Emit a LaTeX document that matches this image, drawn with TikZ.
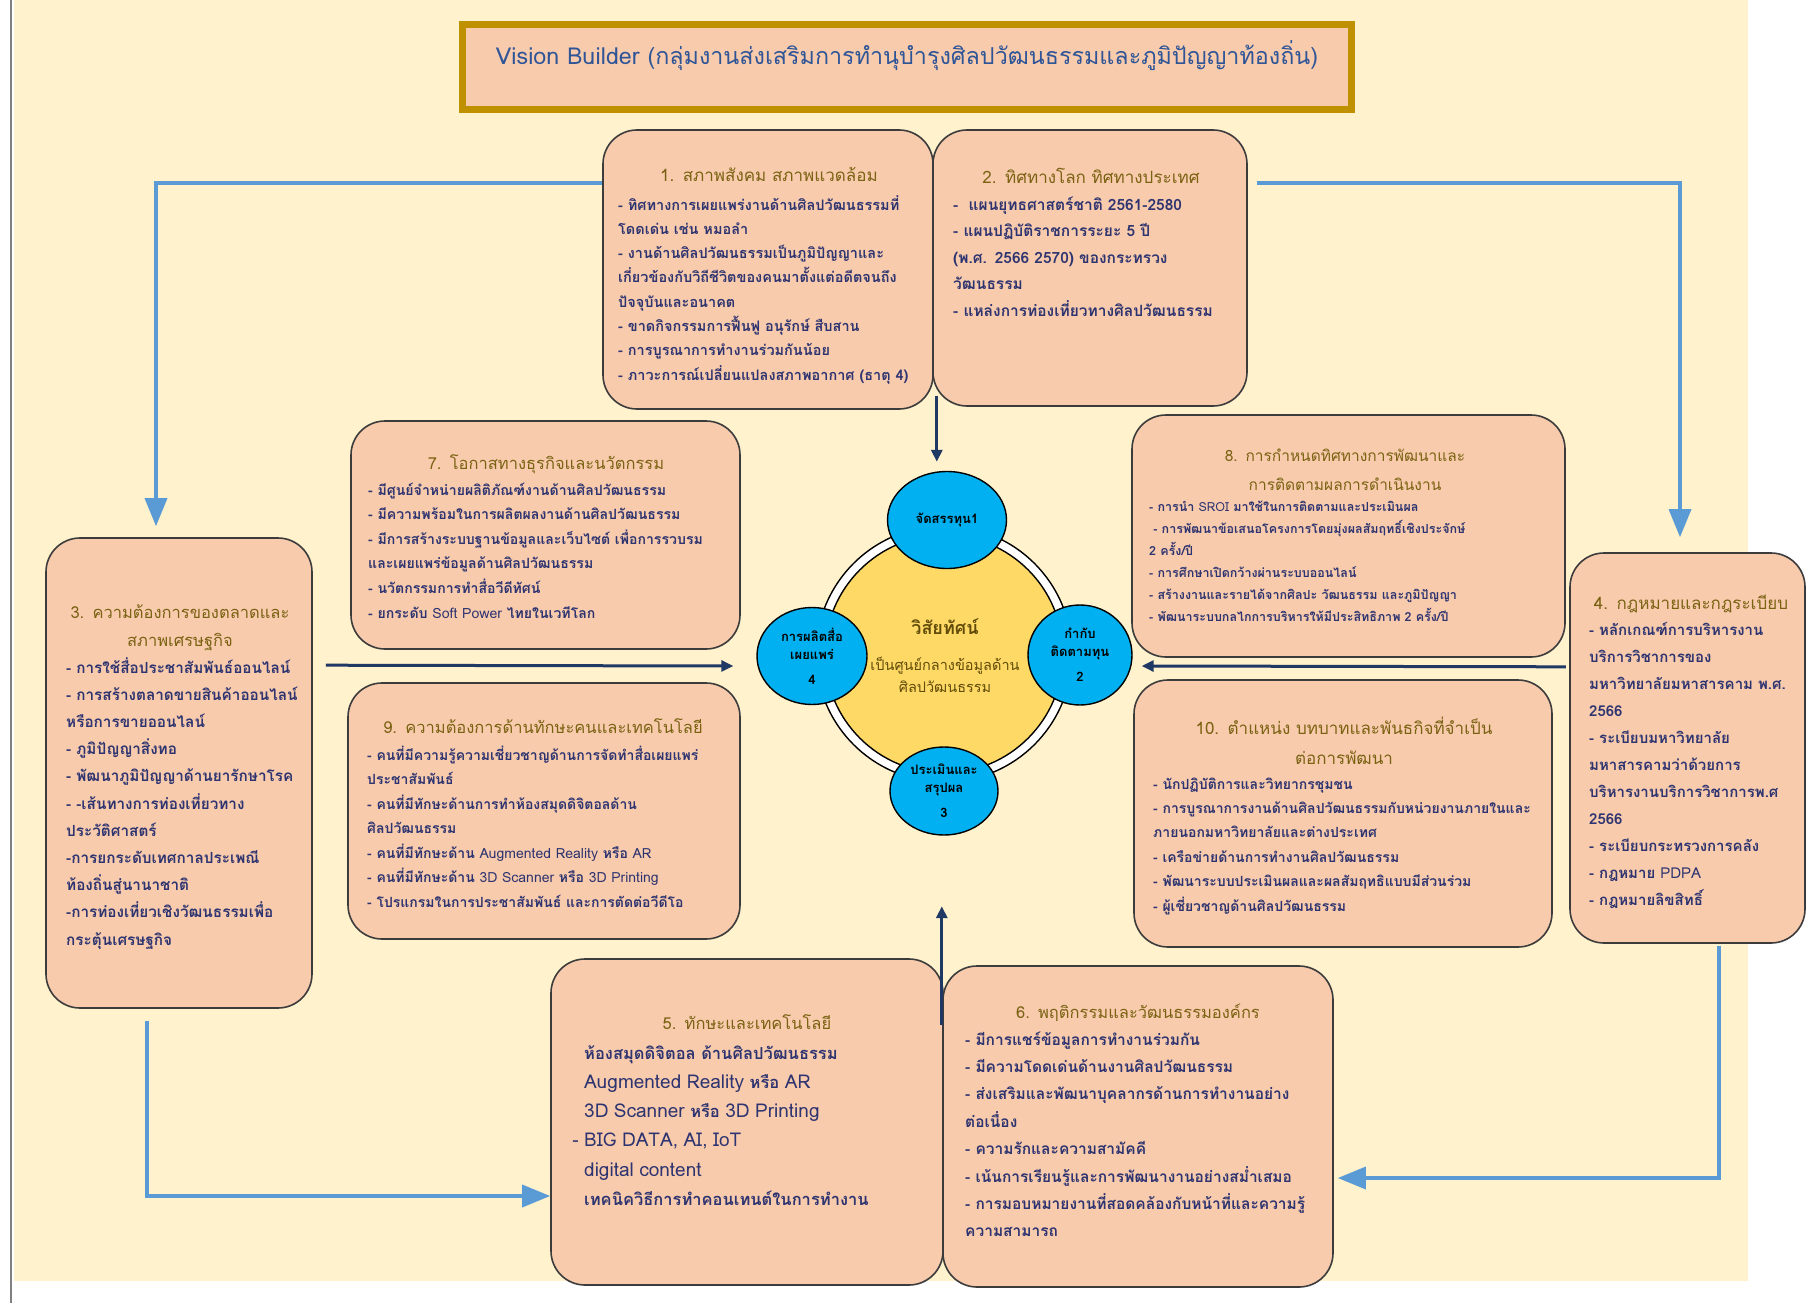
\documentclass[tikz,border=0pt]{standalone}
\usepackage{fontspec}
\setmainfont[Script=Thai]{Loma}
\usetikzlibrary{shapes.geometric,arrows.meta}

\definecolor{cream}{RGB}{255,242,204}
\definecolor{peach}{RGB}{248,203,173}
\definecolor{boxline}{RGB}{60,60,60}
\definecolor{headcol}{RGB}{122,98,18}
\definecolor{bodycol}{RGB}{46,52,112}
\definecolor{titleblue}{RGB}{47,85,151}
\definecolor{gold}{RGB}{191,144,0}
\definecolor{loopblue}{RGB}{91,155,213}
\definecolor{navy}{RGB}{31,56,100}
\definecolor{ringyellow}{RGB}{255,217,102}
\definecolor{skyblue}{RGB}{0,176,240}
\definecolor{vistext}{RGB}{96,76,8}

\newcommand{\engtxt}[1]{{\mdseries #1}}
\newcommand{\biglat}[1]{{\mdseries\fontsize{19}{29.3}\selectfont #1}}

\tikzset{
	panel/.style={draw=boxline, fill=peach, line width=1.6pt, rounded corners=34pt, inner sep=0pt},
	headtxt/.style 2 args={text=headcol, inner sep=0pt, anchor=base, align=center, text width=420pt, font=\fontsize{#1}{#2}\selectfont},
	bodytxt/.style 2 args={text=bodycol, inner sep=0pt, anchor=base west, align=left, text width=440pt, font=\fontsize{#1}{#2}\selectfont\bfseries},
	stage/.style={ellipse, draw=black, fill=skyblue, line width=1.4pt, inner sep=0pt, align=center, font=\fontsize{13}{18}\selectfont\bfseries},
	loopline/.style={draw=loopblue, line width=3.5pt, -{Triangle[length=28pt,width=22pt]}},
	navyline/.style={draw=navy, line width=3pt, -{Triangle[length=12pt,width=11pt]}}
}

\begin{document}
\begin{tikzpicture}[x=1pt,y=-1pt]
	\useasboundingbox (0,0) rectangle (1807,1303);
	\fill[cream] (14,0) rectangle (1748,1281);
	\draw[gray, line width=2pt] (11,0) -- (11,1303);

	% title
	\node[draw=gold, line width=7pt, fill=peach, minimum width=889pt, minimum height=85pt] (title) at (907,67) {};
	\node[text=titleblue, font=\fontsize{23.3}{30}\selectfont, inner sep=0pt, anchor=base] (ttl) at (907,65) {Vision Builder (กลุ่มงานส่งเสริมการทำนุบำรุงศิลปวัฒนธรรมและภูมิปัญญาท้องถิ่น)};

	% boxes
	\node[panel, minimum width=330pt, minimum height=279pt] (b1) at (768,269.5) {};
	\node[panel, minimum width=314pt, minimum height=276pt] (b2) at (1090,268) {};
	\node[panel, minimum width=389pt, minimum height=228pt] (b7) at (545.5,535) {};
	\node[panel, minimum width=433pt, minimum height=242pt] (b8) at (1348.5,536) {};
	\node[panel, minimum width=266pt, minimum height=470pt] (b3) at (179,773) {};
	\node[panel, minimum width=235pt, minimum height=390pt] (b4) at (1687.5,748) {};
	\node[panel, minimum width=392pt, minimum height=256pt] (b9) at (544,811) {};
	\node[panel, minimum width=418pt, minimum height=267pt] (b10) at (1343,813.5) {};
	\node[panel, minimum width=392pt, minimum height=326pt] (b5) at (747,1122) {};
	\node[panel, minimum width=390pt, minimum height=321pt] (b6) at (1138,1126.5) {};

	% box 1
	\node[headtxt={17}{28}] (h1) at (769,181) {1. สภาพสังคม สภาพแวดล้อม};
	\node[bodytxt={14.5}{24.3}] (t1) at (618,210) {- ทิศทางการเผยแพร่งานด้านศิลปวัฒนธรรมที่\\
		โดดเด่น เช่น หมอลำ\\
		- งานด้านศิลปวัฒนธรรมเป็นภูมิปัญญาและ\\
		เกี่ยวข้องกับวิถีชีวิตของคนมาตั้งแต่อดีตจนถึง\\
		ปัจจุบันและอนาคต\\
		- ขาดกิจกรรมการฟื้นฟู อนุรักษ์ สืบสาน\\
		- การบูรณาการทำงานร่วมกันน้อย\\
		- ภาวะการณ์เปลี่ยนแปลงสภาพอากาศ (ธาตุ 4)};

	% box 2
	\node[headtxt={17}{28}] (h2) at (1091,183) {2. ทิศทางโลก ทิศทางประเทศ};
	\node[bodytxt={15.5}{26.6}] (t2) at (953,210) {-\ \ แผนยุทธศาสตร์ชาติ 2561-2580\\
		- แผนปฏิบัติราชการระยะ 5 ปี\\
		(พ.ศ. 2566 2570) ของกระทรวง\\
		วัฒนธรรม\\
		- แหล่งการท่องเที่ยวทางศิลปวัฒนธรรม};

	% box 7
	\node[headtxt={16.5}{28}] (h7) at (546,469) {7. โอกาสทางธุรกิจและนวัตกรรม};
	\node[bodytxt={14.1}{24.6}] (t7) at (368,495) {- มีศูนย์จำหน่ายผลิติภัณฑ์งานด้านศิลปวัฒนธรรม\\
		- มีความพร้อมในการผลิตผลงานด้านศิลปวัฒนธรรม\\
		- มีการสร้างระบบฐานข้อมูลและเว็บไซต์ เพื่อการรวบรม\\
		และเผยแพร่ข้อมูลด้านศิลปวัฒนธรรม\\
		- นวัตกรรมการทำสื่อวีดีทัศน์\\
		- ยกระดับ \engtxt{Soft Power} ไทยในเวทีโลก};

	% box 8
	\node[headtxt={15.5}{29}] (h8) at (1345,461) {8. การกำหนดทิศทางการพัฒนาและ\\การติดตามผลการดำเนินงาน};
	\node[bodytxt={12.5}{22}] (t8) at (1149,511) {- การนำ \engtxt{SROI} มาใช้ในการติดตามและประเมินผล\\
		\ - การพัฒนาข้อเสนอโครงการโดยมุ่งผลสัมฤทธิ์เชิงประจักษ์\\
		2 ครั้ง/ปี\\
		- การศึกษาเปิดกว้างผ่านระบบออนไลน์\\
		- สร้างงานและรายได้จากศิลปะ วัฒนธรรม และภูมิปัญญา\\
		- พัฒนาระบบกลไกการบริหารให้มีประสิทธิภาพ 2 ครั้ง/ปี};

	% box 3
	\node[headtxt={16.5}{28}] (h3) at (180,618) {3. ความต้องการของตลาดและ\\สภาพเศรษฐกิจ};
	\node[bodytxt={15.3}{27.2}] (t3) at (66,673) {- การใช้สื่อประชาสัมพันธ์ออนไลน์\\
		- การสร้างตลาดขายสินค้าออนไลน์\\
		หรือการขายออนไลน์\\
		- ภูมิปัญญาสิ่งทอ\\
		- พัฒนาภูมิปัญญาด้านยารักษาโรค\\
		- -เส้นทางการท่องเที่ยวทาง\\
		ประวัติศาสตร์\\
		-การยกระดับเทศกาลประเพณี\\
		ท้องถิ่นสู่นานาชาติ\\
		-การท่องเที่ยวเชิงวัฒนธรรมเพื่อ\\
		กระตุ้นเศรษฐกิจ};

	% box 4
	\node[headtxt={17}{28}] (h4) at (1691,609) {4. กฎหมายและกฎระเบียบ};
	\node[bodytxt={15}{27}] (t4) at (1589,635) {- หลักเกณฑ์การบริหารงาน\\
		บริการวิชาการของ\\
		มหาวิทยาลัยมหาสารคาม พ.ศ.\\
		2566\\
		- ระเบียบมหาวิทยาลัย\\
		มหาสารคามว่าด้วยการ\\
		บริหารงานบริการวิชาการพ.ศ\\
		2566\\
		- ระเบียบกระทรวงการคลัง\\
		- กฎหมาย \engtxt{PDPA}\\
		- กฎหมายลิขสิทธิ์};

	% box 9
	\node[headtxt={16.5}{28}] (h9) at (543,733) {9. ความต้องการด้านทักษะคนและเทคโนโลยี};
	\node[bodytxt={14}{24.5}] (t9) at (367,760) {- คนที่มีความรู้ความเชี่ยวชาญด้านการจัดทำสื่อเผยแพร่\\
		ประชาสัมพันธ์\\
		- คนที่มีทักษะด้านการทำห้องสมุดดิจิตอลด้าน\\
		ศิลปวัฒนธรรม\\
		- คนที่มีทักษะด้าน \engtxt{Augmented Reality} หรือ \engtxt{AR}\\
		- คนที่มีทักษะด้าน \engtxt{3D Scanner} หรือ \engtxt{3D Printing}\\
		- โปรแกรมในการประชาสัมพันธ์ และการตัดต่อวีดีโอ};

	% box 10
	\node[headtxt={17}{30}] (h10) at (1344,734) {10. ตำแหน่ง บทบาทและพันธกิจที่จำเป็น\\ต่อการพัฒนา};
	\node[bodytxt={14}{24.4}] (t10) at (1153,789) {- นักปฏิบัติการและวิทยากรชุมชน\\
		- การบูรณาการงานด้านศิลปวัฒนธรรมกับหน่วยงานภายในและ\\
		ภายนอกมหาวิทยาลัยและต่างประเทศ\\
		- เครือข่ายด้านการทำงานศิลปวัฒนธรรม\\
		- พัฒนาระบบประเมินผลและผลสัมฤทธิแบบมีส่วนร่วม\\
		- ผู้เชี่ยวชาญด้านศิลปวัฒนธรรม};

	% box 5
	\node[headtxt={16.5}{28}] (h5) at (747,1029) {5. ทักษะและเทคโนโลยี};
	\node[bodytxt={16.5}{29.3}] (t5) at (584,1059) {ห้องสมุดดิจิตอล ด้านศิลปวัฒนธรรม\\
		\biglat{Augmented Reality} หรือ \biglat{AR}\\
		\biglat{3D Scanner} หรือ \biglat{3D Printing}\\
		\leavevmode\llap{\biglat{- }}\biglat{BIG DATA, AI, IoT}\\
		\biglat{digital content}\\
		เทคนิควิธีการทำคอนเทนต์ในการทำงาน};

	% box 6
	\node[headtxt={16.5}{28}] (h6) at (1138,1018) {6. พฤติกรรมและวัฒนธรรมองค์กร};
	\node[bodytxt={15.5}{27.4}] (t6) at (965,1045) {- มีการแชร์ข้อมูลการทำงานร่วมกัน\\
		- มีความโดดเด่นด้านงานศิลปวัฒนธรรม\\
		- ส่งเสริมและพัฒนาบุคลากรด้านการทำงานอย่าง\\
		ต่อเนื่อง\\
		- ความรักและความสามัคคี\\
		- เน้นการเรียนรู้และการพัฒนางานอย่างสม่ำเสมอ\\
		- การมอบหมายงานที่สอดคล้องกับหน้าที่และความรู้\\
		ความสามารถ};

	% vision circle
	\node[circle, draw=black, fill=white, line width=1.4pt, minimum size=256pt, inner sep=0pt] (ring) at (944,654) {};
	\node[circle, draw=black, fill=ringyellow, line width=1.4pt, minimum size=238pt, inner sep=0pt] (vision) at (944,654) {};
	\node[text=vistext, font=\fontsize{18}{24}\selectfont\bfseries, inner sep=0pt, anchor=base] (vt) at (945,634) {วิสัยทัศน์};
	\node[text=vistext, font=\fontsize{14.5}{22}\selectfont, inner sep=0pt, anchor=base, align=center] (vs) at (945,692) {เป็นศูนย์กลางข้อมูลด้าน\\ศิลปวัฒนธรรม};

	\node[stage, minimum width=119pt, minimum height=97pt] (e1) at (947,520) {จัดสรรทุน1};
	\node[stage, minimum width=104pt, minimum height=100pt] (e2) at (1080,655) {กำกับ\\ติดตามทุน\\[7pt]2};
	\node[stage, minimum width=108pt, minimum height=88pt] (e3) at (944,791) {ประเมินและ\\สรุปผล\\[7pt]3};
	\node[stage, minimum width=110pt, minimum height=97pt] (e4) at (812,656) {การผลิตสื่อ\\เผยแพร่\\[7pt]4};

	% outer loop
	\draw[loopline] ([yshift=-54pt]b1.north west) -| ([xshift=-23pt,yshift=11pt]b3.north);
	\draw[loopline] ([xshift=9pt,yshift=-54pt]b2.north east) -| ([xshift=-7.5pt,yshift=15pt]b4.north);
	\draw[loopline] ([xshift=31.5pt,yshift=-2pt]b4.south) |- ([xshift=4pt,yshift=-51.5pt]b6.east);
	\draw[loopline] ([xshift=-32pt,yshift=-12pt]b3.south) |- ([yshift=-74pt]b5.west);

	% inner arrows
	\draw[navyline] ([xshift=3pt,yshift=14pt]b1.south east) -- ([xshift=3pt,yshift=9pt]b1.south east |- e1.north);
	\draw[navyline] ([xshift=13pt,yshift=-128pt]b3.north east) -- ([xshift=-23pt,yshift=-10pt]e4.west);
	\draw[navyline] ([yshift=-9pt]b8.south east) -- ([xshift=9pt,yshift=-11pt]e2.east);
	\draw[navyline] ([xshift=-2pt,yshift=-67pt]b5.north east) -- ([xshift=-2pt,yshift=52pt]b5.north east);
\end{tikzpicture}
\end{document}
